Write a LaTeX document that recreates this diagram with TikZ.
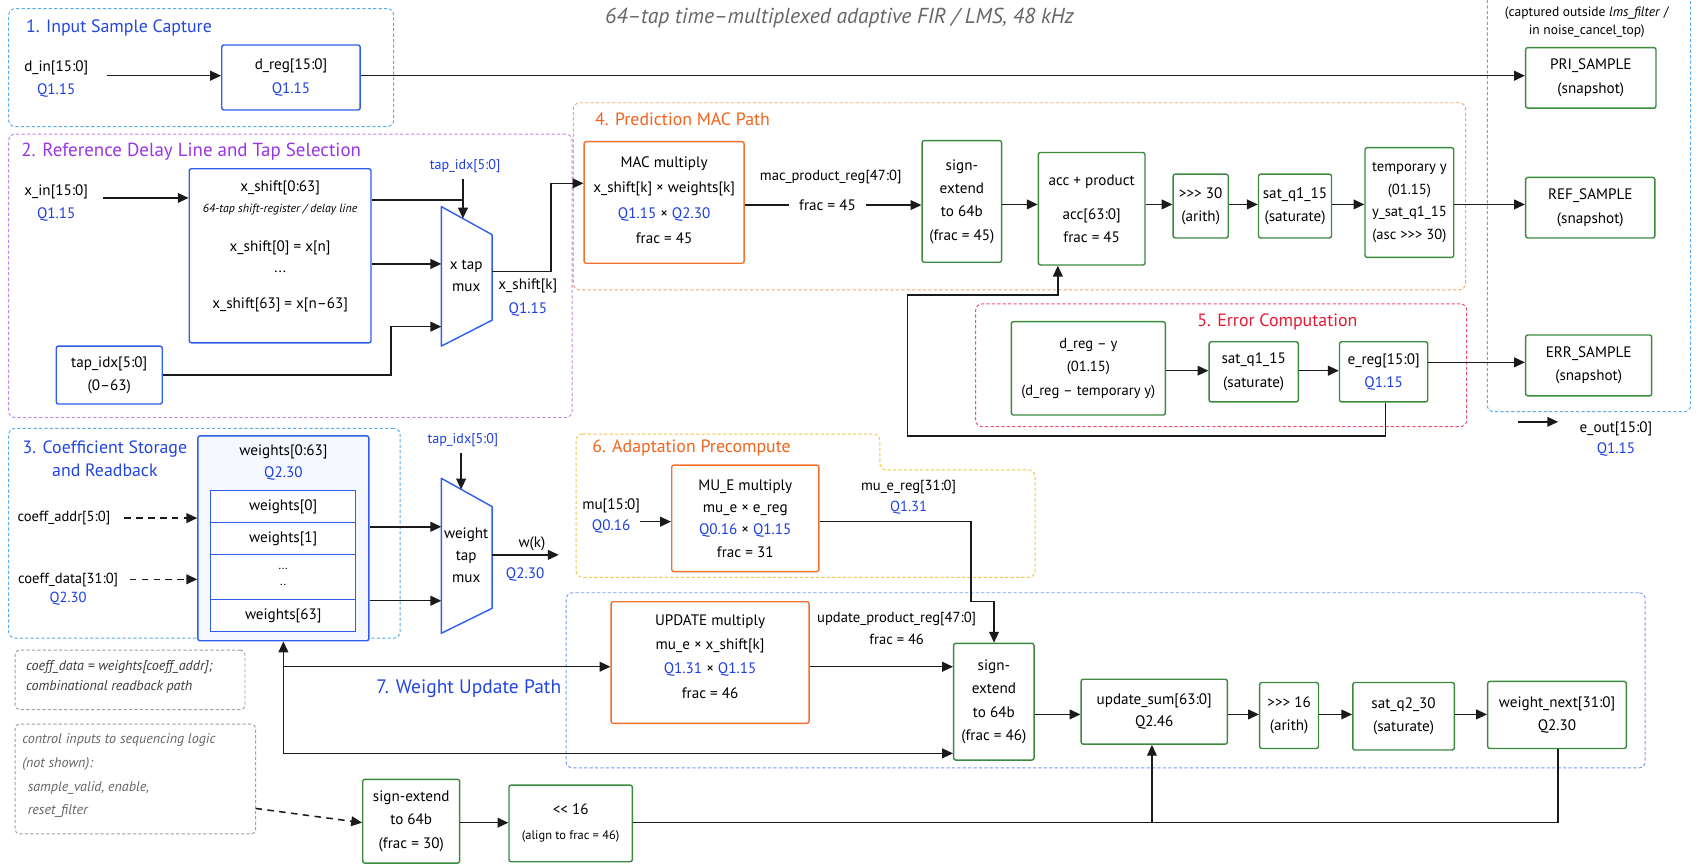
\documentclass[tikz,border=0pt]{standalone}
\usepackage{fontspec}
\setmainfont{PT Sans}
\usetikzlibrary{arrows.meta}
\definecolor{qblue}{HTML}{1E3FE0}
\definecolor{lblblue}{HTML}{2346E0}
\definecolor{boxblue}{HTML}{2F5FEA}
\definecolor{boxgreen}{HTML}{3B8A3E}
\definecolor{boxorange}{HTML}{F0722E}
\definecolor{gsky}{HTML}{5AADEB}
\definecolor{gpurple}{HTML}{C08AEC}
\definecolor{lblpurple}{HTML}{9A35E6}
\definecolor{gorange}{HTML}{F5A770}
\definecolor{lblorange}{HTML}{F0641E}
\definecolor{gred}{HTML}{EE5070}
\definecolor{lblred}{HTML}{E61A32}
\definecolor{gyellow}{HTML}{F2C94C}
\definecolor{gblue7}{HTML}{7A9AF0}
\definecolor{notegray}{HTML}{A0A0A0}
\definecolor{notetext}{HTML}{3C3C3C}
\definecolor{titlegray}{HTML}{666666}
\definecolor{wirec}{HTML}{1A1A1A}
\definecolor{wfill}{HTML}{F5F8FF}
\newcommand\mkbox[7]{\node[#1, minimum width={#5-#3}, minimum height={#6-#4}] (#2) at ({(#3+#5)/2},{(#4+#6)/2}) {#7};}
\begin{document}
\begin{tikzpicture}[x=1pt,y=-1pt,
 bx/.style={draw, rounded corners=2pt, line width=1.3pt, align=center, inner sep=0pt, fill=white, font=\fontsize{14}{21.5}\selectfont, text=black},
 gbx/.style={bx, draw=boxgreen},
 bbx/.style={bx, draw=boxblue},
 obx/.style={bx, draw=boxorange},
 rowbox/.style={draw=boxblue, line width=1.1pt, inner sep=0pt, fill=white, font=\fontsize{14}{16}\selectfont, align=center},
 grp/.style={draw, dash pattern=on 3pt off 2pt, rounded corners=6pt, line width=0.9pt, inner sep=0pt},
 glabel/.style={font=\fontsize{16.5}{20}\selectfont, inner sep=0pt},
 txt/.style={font=\fontsize{14}{21}\selectfont, align=center, inner sep=0pt},
 note/.style={draw=notegray, dash pattern=on 3pt off 2pt, rounded corners=4pt, line width=0.9pt, inner sep=0pt},
 notetxt/.style={font=\fontsize{13}{18.5}\selectfont\itshape, text=notetext, align=left, inner sep=0pt, anchor=west},
 wire/.style={draw=wirec, line width=1.4pt},
 arr/.style={wire, -{Triangle[length=10pt,width=9pt]}},
 darr/.style={arr, dash pattern=on 6pt off 5pt},
 muxsty/.style={draw=boxblue, line width=1.3pt, fill=white, line join=round},
]
\useasboundingbox (0,0) rectangle (1568,799);
\fill[white] (0,0) rectangle (1568,799);

% ---------- title
\node[font=\fontsize{20}{23}\selectfont\itshape, text=titlegray, inner sep=0pt, anchor=east] (title) at (993,17) {64–tap time–multiplexed adaptive FIR / LMS, 48 kHz};

% ---------- groups
\mkbox{grp,draw=gsky}{g1}{8}{8}{364}{117}{}
\mkbox{grp,draw=gpurple}{g2}{8}{124}{529}{386}{}
\mkbox{grp,draw=gorange}{g4}{530}{95}{1355}{268}{}
\mkbox{grp,draw=gred}{g5}{902}{281}{1356}{394.5}{}
\draw[grp, draw=gsky] (1375,0) -- (1375,380.6) -- (1563,380.6) -- (1563,0);
\mkbox{grp,draw=gsky}{g3}{8}{396}{370}{590}{}
\draw[grp, draw=gyellow] (532.6,401.3) -- (813.5,401.3) -- (813.5,434.5) -- (957,434.5) -- (957,533.8) -- (532.6,533.8) -- cycle;
\mkbox{grp,draw=gblue7}{g7}{523.4}{548}{1521}{710}{}
\mkbox{note}{n1}{14}{601}{226.5}{656}{}
\mkbox{note}{n2}{14}{669.4}{236.3}{771}{}

\node[glabel, anchor=west, text=lblblue] (g1l) at (24,26) {1. Input Sample Capture};
\node[glabel, anchor=west, text=lblpurple, font=\fontsize{17.5}{20}\selectfont] (g2l) at (19.5,140) {2. Reference Delay Line and Tap Selection};
\node[glabel, anchor=west, text=lblorange] (g4l) at (550,110) {4. Prediction MAC Path};
\node[glabel, text=lblred] (g5l) at (1181,297.4) {5. Error Computation};
\node[glabel, align=center, text=lblblue, font=\fontsize{16.5}{21.5}\selectfont] (g3l) at (97,424) {3. Coefficient Storage\\and Readback};
\node[glabel, anchor=west, text=lblorange] (g6l) at (547.4,414.5) {6. Adaptation Precompute};
\node[glabel, anchor=east, text=lblblue, font=\fontsize{18}{20}\selectfont] (g7l) at (519,637) {7. Weight Update Path};
\node[font=\fontsize{12.5}{17}\selectfont, align=center, inner sep=0pt] (capt) at (1467,20.5) {(captured outside \textit{lms\_filter} /\\in noise\_cancel\_top)};

% ---------- notes
\node[notetxt] (n1t) at (24,625.6) {coeff\_data = weights[coeff\_addr];\\combinational readback path};
\node[notetxt, font=\fontsize{13}{22}\selectfont\itshape, text=titlegray] (n2t) at (20.5,717.2) {control inputs to sequencing logic\\(not shown):\\\hspace*{5pt}sample\_valid, enable,\\\hspace*{5pt}reset\_filter};

% ---------- group 1
\node[txt] (din) at (52,73) {d\_in[15:0]\\\textcolor{qblue}{Q1.15}};
\mkbox{bbx}{dreg}{205}{41.6}{333}{101.7}{d\_reg[15:0]\\\textcolor{qblue}{Q1.15}}
\mkbox{gbx}{pri}{1410.5}{44}{1531}{100}{PRI\_SAMPLE\\(snapshot)}

% ---------- group 2
\node[txt] (xin) at (52,188) {x\_in[15:0]\\\textcolor{qblue}{Q1.15}};
\mkbox{bbx}{xsh}{175}{156}{343}{317}{}
\node[txt] (xsh1) at (259,174) {x\_shift[0:63]};
\node[inner sep=0pt, font=\fontsize{11}{13}\selectfont\itshape] (xsh2) at (259,194) {64-tap shift-register / delay line};
\node[txt] (xsh3) at (259,229) {x\_shift[0] = x[n]};
\node[txt] (xsh4) at (259,251) {...};
\node[txt] (xsh5) at (259,282) {x\_shift[63] = x[n–63]};
\mkbox{bbx}{tapbox}{52}{320}{150}{373.5}{tap\_idx[5:0]\\(0–63)}
\node[txt, font=\fontsize{13}{15}\selectfont, text=qblue] (tapl1) at (430,153.5) {tap\_idx[5:0]};
\coordinate (xm1) at (408,191); \coordinate (xm2) at (455,217);
\coordinate (xm3) at (455,296); \coordinate (xm4) at (408,320);
\draw[muxsty] (xm1) -- (xm2) -- (xm3) -- (xm4) -- cycle;
\node[txt] (xmux) at (431,255) {x tap\\mux};
\node[txt, font=\fontsize{14}{21.5}\selectfont] (xk) at (488,275) {x\_shift[k]\\\textcolor{qblue}{Q1.15}};

% ---------- group 4
\mkbox{obx}{mac}{540}{131}{688}{243.4}{}
\node[txt, font=\fontsize{14}{23.5}\selectfont] (mact) at (614,185) {MAC multiply\\x\_shift[k] × weights[k]\\\textcolor{qblue}{Q1.15} × \textcolor{qblue}{Q2.30}\\frac = 45};
\node[txt, font=\fontsize{13.5}{16}\selectfont] (macl) at (768,163.6) {mac\_product\_reg[47:0]};
\mkbox{gbx}{se1}{852.5}{130}{926}{242.5}{sign-\\extend\\to 64b\\(frac = 45)}
\mkbox{gbx}{acc}{960}{141}{1058.6}{245}{acc + product\\[10pt]acc[63:0]\\frac = 45}
\mkbox{gbx}{sh30}{1084.6}{161}{1135.5}{220}{>{}>{}> 30\\(arith)}
\mkbox{gbx}{sat1}{1163.5}{161}{1231}{220}{sat\_q1\_15\\(saturate)}
\mkbox{gbx,font=\fontsize{13.5}{20.7}\selectfont}{tempy}{1262}{136.5}{1344}{238}{temporary y\\(01.15)\\y\_sat\_q1\_15\\(asc >{}>{}> 30)}
\mkbox{gbx}{ref}{1410.5}{164}{1530}{220}{REF\_SAMPLE\\(snapshot)}

% ---------- group 5
\mkbox{gbx,font=\fontsize{13.5}{21.5}\selectfont}{dregy}{935}{297.4}{1077.4}{383.7}{d\_reg – y\\(01.15)\\(d\_reg – temporary y)}
\mkbox{gbx}{sat2}{1117.8}{316}{1200.3}{371.6}{sat\_q1\_15\\(saturate)}
\mkbox{gbx}{ereg}{1238.4}{316}{1320}{371.6}{e\_reg[15:0]\\\textcolor{qblue}{Q1.15}}
\mkbox{gbx}{err}{1410.5}{309.7}{1527}{366}{ERR\_SAMPLE\\(snapshot)}
\node[txt, font=\fontsize{14}{20}\selectfont] (eout) at (1494,406) {e\_out[15:0]\\\textcolor{qblue}{Q1.15}};

% ---------- group 3
\mkbox{bbx,fill=wfill}{wout}{183}{403}{341}{592.4}{}
\node[txt, font=\fontsize{14}{20}\selectfont] (wtitle) at (262,427.6) {weights[0:63]\\\textcolor{qblue}{Q2.30}};
\mkbox{rowbox}{w0}{194.6}{453.7}{329}{483.2}{weights[0]}
\mkbox{rowbox}{w1}{194.6}{483.2}{329}{513}{weights[1]}
\mkbox{rowbox,font=\fontsize{11}{15}\selectfont}{wd}{194.6}{513}{329}{554}{...\\..}
\mkbox{rowbox}{w63}{194.6}{554}{329}{584}{weights[63]}
\node[txt, font=\fontsize{13.5}{16}\selectfont, anchor=west] (caddr) at (16,479) {coeff\_addr[5:0]};
\node[txt, font=\fontsize{13.5}{18}\selectfont] (cdata) at (63,544.5) {coeff\_data[31:0]\\\textcolor{qblue}{Q2.30}};
\node[txt, font=\fontsize{13}{15}\selectfont, text=qblue] (tapl2) at (428,406.8) {tap\_idx[5:0]};
\coordinate (wm1) at (408,442.2); \coordinate (wm2) at (455,468.4);
\coordinate (wm3) at (455,562.4); \coordinate (wm4) at (408,585.5);
\draw[muxsty] (wm1) -- (wm2) -- (wm3) -- (wm4) -- cycle;
\node[txt, font=\fontsize{14}{20.4}\selectfont] (wmux) at (431,513) {weight\\tap\\mux};
\node[txt] (wk) at (491.8,503) {w(k)};
\node[txt, text=qblue] (wkq) at (485.5,530.7) {Q2.30};

% ---------- group 6
\node[txt, font=\fontsize{14}{20}\selectfont] (mu) at (565,477) {mu[15:0]\\\textcolor{qblue}{Q0.16}};
\mkbox{obx,font=\fontsize{14}{20.7}\selectfont}{mue}{621}{430}{757}{528.5}{MU\_E multiply\\mu\_e × e\_reg\\\textcolor{qblue}{Q0.16} × \textcolor{qblue}{Q1.15}\\frac = 31}
\node[txt, font=\fontsize{13.5}{19}\selectfont] (muel) at (840,459.5) {mu\_e\_reg[31:0]\\\textcolor{qblue}{Q1.31}};

% ---------- group 7
\mkbox{obx}{upd}{565}{556.3}{748}{668.8}{}
\node[txt, font=\fontsize{14}{22.5}\selectfont] (updt) at (656.5,606.7) {UPDATE multiply\\mu\_e × x\_shift[k]\\\textcolor{qblue}{Q1.31} × \textcolor{qblue}{Q1.15}\\frac = 46};
\node[txt, font=\fontsize{13.5}{21}\selectfont] (updl) at (829,581) {update\_product\_reg[47:0]\\frac = 46};
\mkbox{gbx}{se2}{881.7}{594.8}{956}{702.7}{sign-\\extend\\to 64b\\(frac = 46)}
\mkbox{gbx,font=\fontsize{14}{20}\selectfont}{usum}{999.5}{628}{1134.7}{688}{update\_sum[63:0]\\Q2.46}
\mkbox{gbx}{sh16}{1164.6}{631}{1219}{692}{>{}>{}> 16\\(arith)}
\mkbox{gbx}{sat3}{1250.7}{631}{1344.6}{693.4}{sat\_q2\_30\\(saturate)}
\mkbox{gbx,font=\fontsize{14}{20.5}\selectfont}{wnext}{1375.4}{630}{1503.6}{692}{weight\_next[31:0]\\Q2.30}
\mkbox{gbx,font=\fontsize{14}{21.7}\selectfont}{se3}{335.4}{720.5}{425}{798}{sign-extend\\to 64b\\(frac = 30)}
\mkbox{gbx,font=\fontsize{14}{23}\selectfont}{sl16}{470.6}{725.8}{584.6}{796.7}{<{}< 16\\{\fontsize{11.5}{13}\selectfont (align to frac = 46)}}

% ---------- connectors
\coordinate (dinA) at (99,70);
\draw[arr] (dinA) -- (dinA -| dreg.west);
\coordinate (priA) at (0,70);
\draw[arr] (dreg.east |- priA) -- (pri.west |- priA);

\coordinate (xinA) at (95.5,183);
\draw[arr] (xinA) -- (xinA -| xsh.west);
\coordinate (tapJ) at (428,185);
\draw[wire] (xsh.east |- tapJ) -- (tapJ);
\coordinate (tapA) at (428,165.5); \coordinate (tapB) at (428,202);
\draw[arr] (tapA) -- (tapB);
\coordinate (xmA) at (408,244);
\draw[arr] (xsh.east |- xmA) -- (xmA);
\coordinate (tp1) at (361.6,302); \coordinate (tp2) at (408,302);
\draw[arr] (tapbox.east) -| (tp1) -- (tp2);
\coordinate (xo1) at (455,251); \coordinate (xo2) at (509.5,251); \coordinate (xo3) at (509.5,169.5);
\draw[arr] (xo1) -- (xo2) -- (xo3) -- (xo3 -| mac.west);

\coordinate (r0) at (0,189.6);
\draw[arr] (mac.east |- r0) -- node[pos=0.468, fill=white, inner xsep=9pt, inner ysep=2pt, font=\fontsize{14}{16}\selectfont] (macf) {frac = 45} (se1.west |- r0);
\coordinate (r1) at (0,189);
\draw[arr] (se1.east |- r1) -- (acc.west |- r1);
\draw[arr] (acc.east |- r1) -- (sh30.west |- r1);
\draw[arr] (sh30.east |- r1) -- (sat1.west |- r1);
\draw[arr] (sat1.east |- r1) -- (tempy.west |- r1);
\draw[arr] (tempy.east |- r1) -- (ref.west |- r1);

\coordinate (r2) at (0,342.7);
\draw[arr] (dregy.east |- r2) -- (sat2.west |- r2);
\draw[arr] (sat2.east |- r2) -- (ereg.west |- r2);
\coordinate (r2b) at (0,335);
\draw[arr] (ereg.east |- r2b) -- (err.west |- r2b);
\coordinate (fb1) at (1281,403); \coordinate (fb2) at (839,403);
\coordinate (fb3) at (839,272.7); \coordinate (fb4) at (978,272.7);
\draw[arr] (ereg.south -| fb1) -- (fb1) -- (fb2) -- (fb3) -- (fb4) -- (acc.south -| fb4);
\coordinate (eo1) at (1403.5,390); \coordinate (eo2) at (1440.5,390);
\draw[arr] (eo1) -- (eo2);

\coordinate (ca1) at (115,479);
\draw[darr] (ca1) -- (ca1 -| wout.west);
\coordinate (cd1) at (120,535.6);
\draw[darr] (cd1) -- (cd1 -| wout.west);
\coordinate (wa1) at (408,487); \coordinate (wa2) at (408,555.4);
\draw[arr] (wout.east |- wa1) -- (wa1);
\draw[arr] (wout.east |- wa2) -- (wa2);
\coordinate (tq1) at (426.3,419); \coordinate (tq2) at (426.3,452.5);
\draw[arr] (tq1) -- (tq2);
\coordinate (wo1) at (455,513); \coordinate (wo2) at (516.6,513);
\draw[arr] (wo1) -- (wo2);

\coordinate (mu1) at (591.7,482.3);
\draw[arr] (mu1) -- (mu1 -| mue.west);
\coordinate (m1) at (897.8,482.3); \coordinate (m2) at (897.8,556.3); \coordinate (m3) at (919,556.3);
\draw[arr] (mue.east |- m1) -- (m1) -- (m2) -- (m3) -- (se2.north -| m3);

\coordinate (L1) at (262,696.5); \coordinate (L2) at (262,616.4);
\draw[arr] (L1) -- (wout.south -| L1);
\draw[arr] (L2) -- (upd.west |- L2);
\draw[arr] (L1) -- (se2.west |- L1);
\draw[arr] (upd.east |- L2) -- (se2.west |- L2);

\coordinate (r3) at (0,660.5);
\draw[arr] (se2.east |- r3) -- (usum.west |- r3);
\draw[arr] (usum.east |- r3) -- (sh16.west |- r3);
\draw[arr] (sh16.east |- r3) -- (sat3.west |- r3);
\draw[arr] (sat3.east |- r3) -- (wnext.west |- r3);

\coordinate (b1) at (1440.5,760.6); \coordinate (b2) at (1065,760.6);
\draw[arr] (wnext.south -| b1) -- (b1) -- (b2) -- (usum.south -| b2);
\draw[wire] (sl16.east |- b2) -- (b2);

\coordinate (c1) at (236.3,747.4);
\draw[darr] (c1) -- (se3.west |- b2);
\draw[arr] (se3.east |- b2) -- (sl16.west |- b2);
\end{tikzpicture}
\end{document}
